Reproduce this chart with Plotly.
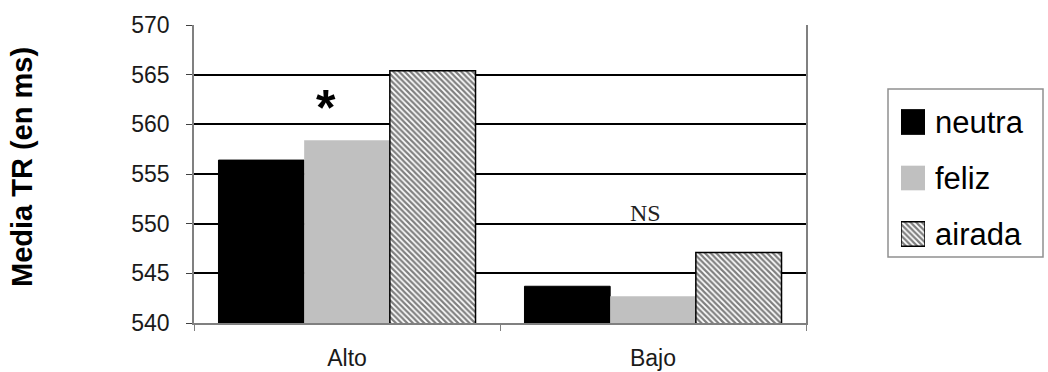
import plotly.graph_objects as go

categories = ["Alto", "Bajo"]
neutra = [556.4, 543.7]
feliz = [558.4, 542.7]
airada = [565.4, 547.1]
series_names = ["neutra", "feliz", "airada"]
y_ticks = [540, 545, 550, 555, 560, 565, 570]
y_title = "Media TR (en ms)"
sig_labels = ["*", "NS"]

W, H = 1048, 372
ML, MR, MT, MB = 194, 5, 25, 49
PW = W - ML - MR
PH = H - MT - MB


def px_x(p):
    return (p - ML) / PW


def px_y(p):
    return (H - MB - p) / PH


styles = [
    dict(color="black", line=dict(color="black", width=1)),
    dict(color="#c0c0c0", line=dict(color="#c0c0c0", width=0)),
    dict(color="white", line=dict(color="black", width=1.5),
         pattern=dict(shape="\\", fgcolor="black", bgcolor="white", size=4, solidity=0.55)),
]
values = [neutra, feliz, airada]

fig = go.Figure()
for name, vals, st in zip(series_names, values, styles):
    fig.add_trace(go.Bar(x=categories, y=vals, name=name, marker=st,
                         xaxis="x", yaxis="y", showlegend=False))
# legend swatches drawn as bars on a hidden auxiliary axis
for name, st in zip(series_names, styles):
    fig.add_trace(go.Bar(y=[name], x=[1], orientation="h", marker=st,
                         xaxis="x2", yaxis="y2", width=0.44, offsetgroup="leg",
                         showlegend=False, hoverinfo="skip"))

annotations = [
    dict(text="<b>" + y_title + "</b>", xref="paper", yref="paper",
         x=px_x(22), y=px_y(167), textangle=-90, showarrow=False,
         font=dict(size=29, color="black"), xanchor="center", yanchor="middle"),
    dict(text="<b>" + sig_labels[0] + "</b>", xref="x", yref="y", x=-0.069, y=561.6,
         showarrow=False, font=dict(size=50, color="black", family="Liberation Sans"),
         xanchor="center", yanchor="middle"),
    dict(text=sig_labels[1], xref="x", yref="y", x=0.974, y=550.0,
         showarrow=False, font=dict(size=24, color="#222", family="Liberation Serif"),
         xanchor="center", yanchor="bottom", yshift=-4),
]
for name in series_names:
    annotations.append(dict(text=name, xref="paper", yref="y2", x=px_x(933), y=name,
                            showarrow=False, xanchor="left", yanchor="middle",
                            font=dict(size=31, color="black")))

fig.update_layout(
    width=W, height=H,
    margin=dict(l=ML, r=MR, t=MT, b=MB),
    paper_bgcolor="white", plot_bgcolor="white",
    barmode="group", bargap=0.16, bargroupgap=0,
    font=dict(family="Liberation Sans, Arial", color="#1a1a1a"),
    showlegend=False,
    xaxis=dict(type="category", domain=[0, px_x(806)], anchor="y", automargin=False,
               showline=True, linecolor="#808080", linewidth=1.5,
               ticks="outside", tickson="boundaries", ticklen=6, tickcolor="#808080",
               tickfont=dict(size=23), ticklabelstandoff=14, showgrid=False),
    yaxis=dict(range=[540, 570], tickvals=y_ticks, showline=True, mirror=True,
               anchor="x", automargin=False,
               linecolor="#808080", linewidth=1.5, ticks="outside", ticklen=6,
               tickcolor="#404040", tickfont=dict(size=23), ticklabelstandoff=12,
               showgrid=True, gridcolor="black", gridwidth=2, zeroline=False),
    xaxis2=dict(domain=[px_x(901), px_x(925)], range=[0, 1], anchor="y2",
                visible=False, fixedrange=True),
    yaxis2=dict(domain=[px_y(262), px_y(94)], type="category", autorange="reversed",
                anchor="x2", visible=False, fixedrange=True),
    shapes=[dict(type="rect", xref="paper", yref="paper",
                 x0=px_x(888), x1=px_x(1043), y0=px_y(257), y1=px_y(89),
                 line=dict(color="#909090", width=1.5), fillcolor="rgba(0,0,0,0)")],
    annotations=annotations,
)

fig.write_html("out.html")
